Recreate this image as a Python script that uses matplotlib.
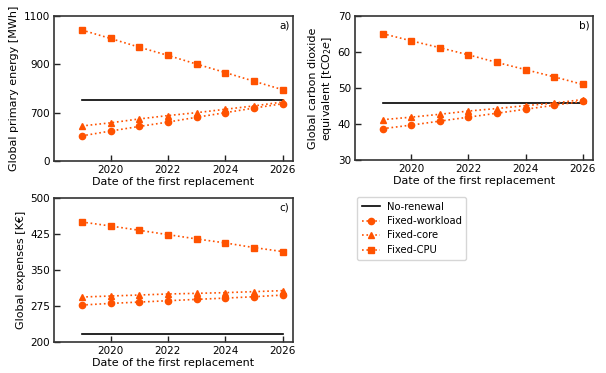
import matplotlib
matplotlib.use("Agg")
import matplotlib.pyplot as plt

years = [2019, 2020, 2021, 2022, 2023, 2024, 2025, 2026]

# Panel a: primary energy [MWh]
energy_no_renewal = 753
energy_workload = [604, 624, 643, 661, 681, 700, 719, 737]
energy_core = [645, 658, 674, 688, 700, 714, 728, 744]
energy_cpu = [1042, 1007, 971, 937, 901, 866, 830, 795]

# Panel b: CO2e [tCO2e]
co2_no_renewal = 45.8
co2_workload = [38.7, 39.7, 40.8, 41.9, 43.0, 44.1, 45.2, 46.3]
co2_core = [41.2, 41.9, 42.7, 43.6, 44.3, 45.1, 45.8, 46.8]
co2_cpu = [65.1, 63.1, 61.2, 59.2, 57.1, 55.1, 53.1, 51.0]

# Panel c: expenses [k€]
cost_no_renewal = 216.5
cost_workload = [277.0, 280.4, 283.2, 286.0, 288.8, 291.5, 294.3, 297.8]
cost_core = [293.7, 295.8, 297.9, 300.0, 301.4, 302.8, 304.9, 307.0]
cost_cpu = [450.0, 441.7, 432.7, 423.7, 414.7, 406.4, 396.7, 388.4]

xticks = [2020, 2022, 2024, 2026]
energy_ticks = [500, 700, 900, 1100]
energy_ticklabels = ["0", "700", "900", "1100"]
co2_ticks = [30, 40, 50, 60, 70]
cost_ticks = [200, 275, 350, 425, 500]

series_labels = ["No-renewal", "Fixed-workload", "Fixed-core", "Fixed-CPU"]

ORANGE = "#ff5200"
plt.rcParams["font.family"] = ["DejaVu Sans"]
plt.rcParams["font.size"] = 8

W, H = 606, 373
fig = plt.figure(figsize=(W / 100, H / 100), dpi=100)


def box(l, t, r, b):
    return [l / W, 1 - b / H, (r - l) / W, (b - t) / H]


def draw(ax, nr, wl, co, cpu, tag, ylabel, ylim, yt, ytl=None):
    ax.plot([years[0], years[-1]], [nr, nr], color="black", lw=1.2, label=series_labels[0])
    kw = dict(color=ORANGE, ls=":", lw=1.2, ms=4.5)
    ax.plot(years, wl, marker="o", label=series_labels[1], **kw)
    ax.plot(years, co, marker="^", label=series_labels[2], **kw)
    ax.plot(years, cpu, marker="s", label=series_labels[3], **kw)
    ax.set_xlim(2018.03, 2026.36)
    ax.set_ylim(*ylim)
    ax.set_xticks(xticks)
    ax.set_yticks(yt)
    if ytl is not None:
        ax.set_yticklabels(ytl)
    ax.tick_params(direction="in", length=4, width=1, colors="#222222", labelcolor="black",
                   pad=3, labelsize=7.5)
    for s in ax.spines.values():
        s.set_color("#333333")
        s.set_linewidth(1.2)
    ax.set_xlabel("Date of the first replacement", labelpad=1, fontsize=8)
    ax.set_ylabel(ylabel, labelpad=3, fontsize=8)
    ax.text(0.985, 0.97, tag, transform=ax.transAxes, ha="right", va="top", fontsize=7.5)


ax_a = fig.add_axes(box(54, 16, 293, 161))
draw(ax_a, energy_no_renewal, energy_workload, energy_core, energy_cpu, "a)",
     "Global primary energy [MWh]", (500, 1100), energy_ticks, energy_ticklabels)

ax_b = fig.add_axes(box(355, 16, 593, 160))
draw(ax_b, co2_no_renewal, co2_workload, co2_core, co2_cpu, "b)",
     "Global carbon dioxide\nequivalent [tCO$_2$$e$]", (30, 70), co2_ticks)

ax_c = fig.add_axes(box(54, 198, 293, 342))
draw(ax_c, cost_no_renewal, cost_workload, cost_core, cost_cpu, "c)",
     "Global expenses [K€]", (200, 500), cost_ticks)

handles, labels = ax_c.get_legend_handles_labels()
fig.legend(handles, labels, loc="upper left", bbox_to_anchor=(352 / W, 1 - 192 / H),
           frameon=True, fontsize=7.2, handlelength=1.8, handletextpad=0.7,
           borderpad=0.45, labelspacing=0.45,
           edgecolor="#cccccc", fancybox=True)

fig.savefig("out.png", dpi=100)
